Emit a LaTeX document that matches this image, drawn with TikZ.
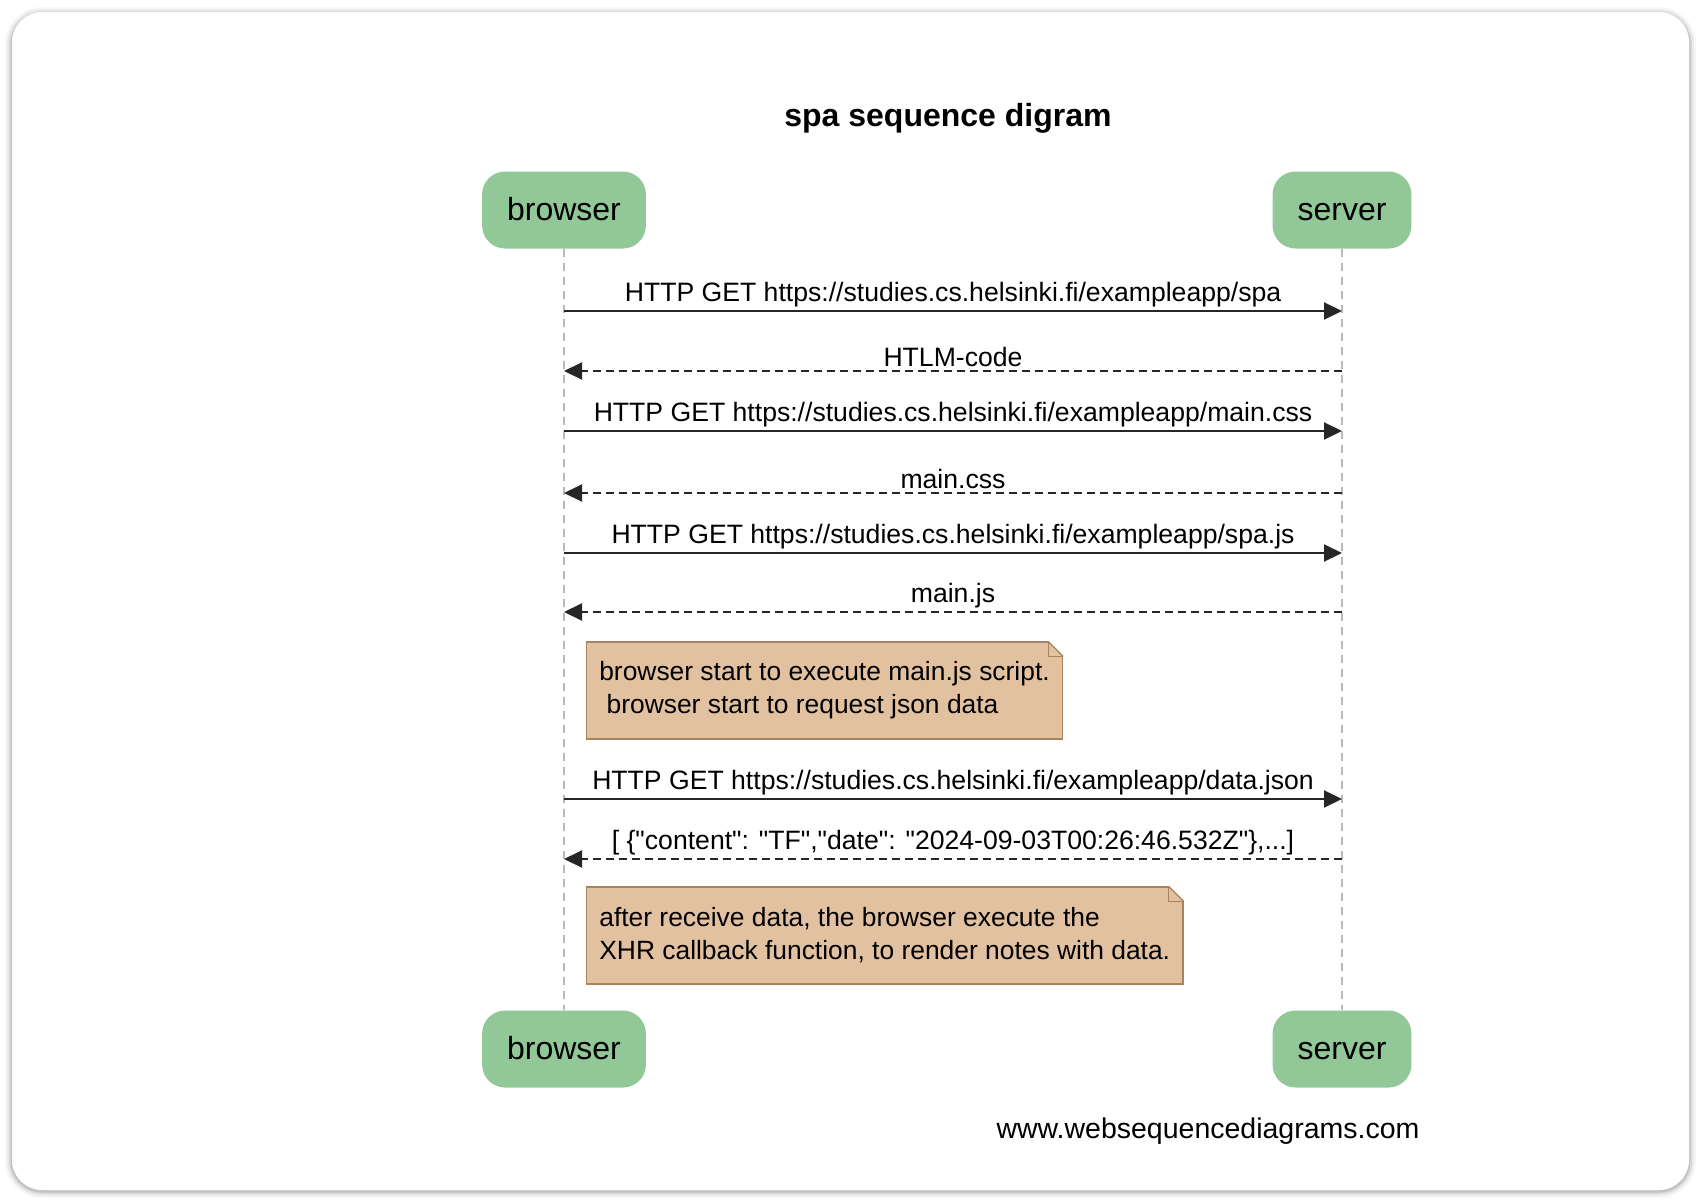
\documentclass[tikz,border=0pt]{standalone}
\usepackage{fontspec}
\setmainfont{Liberation Sans}[Ligatures=TeXOff]
\usetikzlibrary{arrows.meta}
\definecolor{actorgreen}{RGB}{146,200,152}
\definecolor{notefill}{RGB}{226,193,161}
\definecolor{noteline}{RGB}{168,132,94}
\newcommand{\noteear}[1]{%
  \fill[white] ([xshift=-15pt, yshift=1pt]#1.north east) -- ([xshift=1pt, yshift=1pt]#1.north east) -- ([xshift=1pt, yshift=-15pt]#1.north east) -- cycle;
  \draw[noteline, line width=0.8pt] ([xshift=-15pt]#1.north east) |- ([yshift=-15pt]#1.north east);
  \draw[noteline, line width=1.2pt] ([xshift=-15pt]#1.north east) -- ([yshift=-15pt]#1.north east);}

\begin{document}
\begin{tikzpicture}[x=1pt, y=-1pt,
  actor/.style={fill=actorgreen, rounded corners=23pt, minimum height=77pt, inner xsep=25pt, text height=25pt, text depth=5pt, font=\fontsize{32}{38}\selectfont},
  lifeline/.style={gray!55, line width=1.5pt, dash pattern=on 8pt off 6pt},
  msg/.style={black!85, line width=2pt, -{Triangle[length=18pt, width=17pt]}},
  reply/.style={msg, dash pattern=on 8pt off 5pt},
  lbl/.style={midway, above, inner sep=3pt, text=black, font=\fontsize{26.6}{31}\selectfont},
  note/.style={fill=notefill, draw=noteline, line width=1.2pt, align=left, font=\fontsize{26.4}{33}\selectfont}]
\useasboundingbox (0,0) rectangle (1700,1202);
\foreach \w/\o in {14/0.03, 10/0.05, 6/0.07, 3/0.1}
  \draw[line width=\w pt, opacity=\o, rounded corners=30pt] (12,14) rectangle (1689,1191);
\fill[white, rounded corners=30pt] (12,12) rectangle (1689,1190);

\node[font=\bfseries\fontsize{32}{38}\selectfont] (title) at (948,118) {spa sequence digram};

\node[actor] (browser) at (564,210) {browser};
\node[actor] (server) at (1342,210) {server};
\node[actor] (browserend) at (564,1049) {browser};
\node[actor] (serverend) at (1342,1049) {server};

\draw[lifeline] (browser) -- (browserend);
\draw[lifeline] (server) -- (serverend);

\foreach \i/\y in {1/311, 2/371, 3/431, 4/493, 5/553, 6/612, 7/799, 8/859} {
  \coordinate (b\i) at (564,\y);
  \coordinate (s\i) at (1342,\y);
}

\draw[msg] (b1) -- (s1) node[lbl] {HTTP GET https://studies.cs.helsinki.fi/exampleapp/spa};
\draw[reply] (s2) -- (b2) node[lbl] {HTLM-code};
\draw[msg] (b3) -- (s3) node[lbl] {HTTP GET https://studies.cs.helsinki.fi/exampleapp/main.css};
\draw[reply] (s4) -- (b4) node[lbl] {main.css};
\draw[msg] (b5) -- (s5) node[lbl] {HTTP GET https://studies.cs.helsinki.fi/exampleapp/spa.js};
\draw[reply] (s6) -- (b6) node[lbl] {main.js};

\node[note, minimum width=476pt, minimum height=97pt] (note1) at (824.5,690.5)
  {browser start to execute main.js script.\\\ browser start to request json data};
\noteear{note1}

\draw[msg] (b7) -- (s7) node[lbl] {HTTP GET https://studies.cs.helsinki.fi/exampleapp/data.json};
\draw[reply] (s8) -- (b8) node[lbl] {[ \{"content": "TF","date": "2024-09-03T00:26:46.532Z"\},...]};

\node[note, minimum width=596.5pt, minimum height=97pt] (note2) at (884.75,935.5)
  {after receive data, the browser execute the\\XHR callback function, to render notes with data.};
\noteear{note2}

\node[anchor=east, font=\fontsize{28.5}{34}\selectfont] (footer) at (1423,1131) {www.websequencediagrams.com};
\end{tikzpicture}
\end{document}
